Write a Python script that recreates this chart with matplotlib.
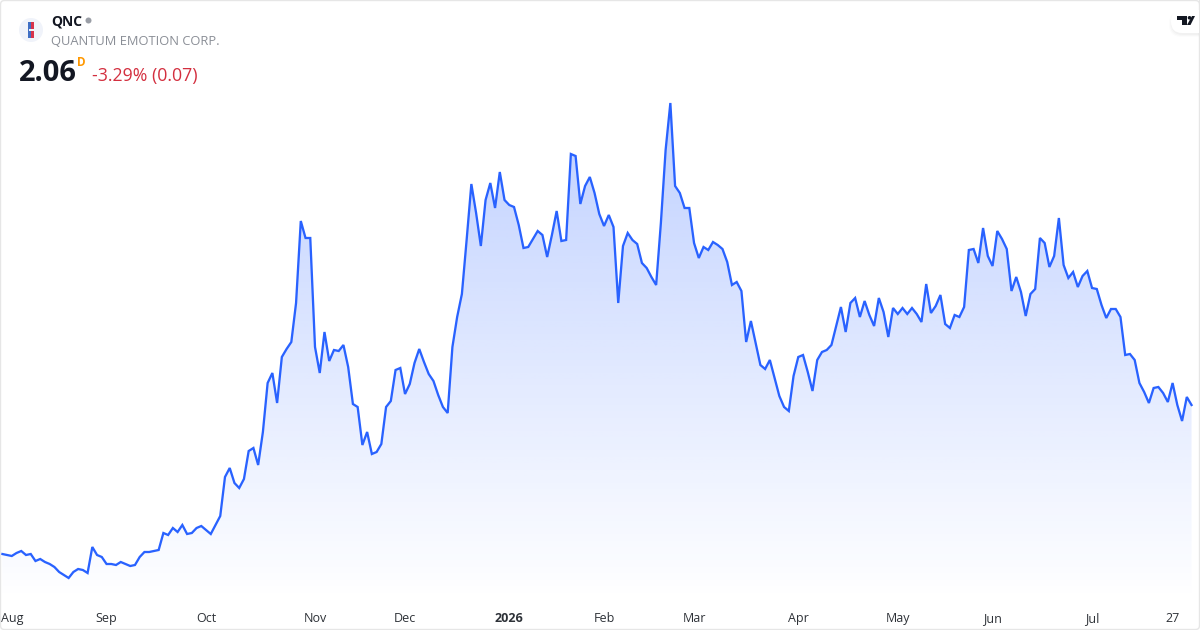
import numpy as np
import matplotlib
matplotlib.use("Agg")
import matplotlib.pyplot as plt
from matplotlib.patches import Circle, FancyBboxPatch, Polygon, Rectangle

plt.rcParams["font.family"] = ["Open Sans", "DejaVu Sans"]

# daily closes
closes = [
    0.57, 0.56, 0.55, 0.58, 0.60, 0.56, 0.57, 0.50, 0.52, 0.49, 0.47, 0.44, 0.39, 0.36, 0.33, 0.39,
    0.42, 0.41, 0.38, 0.64, 0.56, 0.54, 0.47, 0.47, 0.46, 0.49, 0.47, 0.45, 0.46, 0.54, 0.59, 0.59,
    0.60, 0.61, 0.78, 0.76, 0.83, 0.79, 0.86, 0.77, 0.78, 0.83, 0.85, 0.81, 0.77, 0.86, 0.95, 1.34,
    1.43, 1.28, 1.23, 1.32, 1.60, 1.63, 1.46, 1.79, 2.28, 2.38, 2.08, 2.54, 2.62, 2.69, 3.08, 3.90,
    3.73, 3.73, 2.64, 2.38, 2.79, 2.50, 2.61, 2.60, 2.66, 2.44, 2.07, 2.04, 1.66, 1.79, 1.57, 1.59,
    1.67, 2.04, 2.10, 2.41, 2.43, 2.17, 2.27, 2.48, 2.62, 2.49, 2.37, 2.30, 2.16, 2.04, 1.98, 2.64,
    2.94, 3.17, 3.71, 4.27, 3.98, 3.65, 4.11, 4.28, 4.03, 4.39, 4.11, 4.06, 4.04, 3.86, 3.63, 3.64,
    3.72, 3.80, 3.76, 3.54, 3.76, 4.00, 3.70, 3.71, 4.57, 4.55, 4.07, 4.25, 4.34, 4.18, 3.97, 3.85,
    3.96, 3.84, 3.08, 3.65, 3.78, 3.71, 3.67, 3.48, 3.43, 3.34, 3.26, 3.88, 4.61, 5.08, 4.25, 4.18,
    4.03, 4.03, 3.68, 3.53, 3.64, 3.61, 3.69, 3.66, 3.62, 3.49, 3.26, 3.29, 3.20, 2.69, 2.90, 2.68,
    2.46, 2.42, 2.51, 2.33, 2.15, 2.04, 2.00, 2.35, 2.54, 2.56, 2.39, 2.20, 2.51, 2.59, 2.61, 2.66,
    2.85, 3.04, 2.79, 3.08, 3.13, 2.94, 3.10, 2.96, 2.85, 3.13, 2.99, 2.74, 3.03, 2.97, 3.03, 2.97,
    3.03, 2.97, 2.89, 3.27, 2.98, 3.05, 3.16, 2.87, 2.83, 2.96, 2.94, 3.04, 3.61, 3.62, 3.48, 3.83,
    3.55, 3.45, 3.80, 3.72, 3.62, 3.20, 3.34, 3.19, 2.95, 3.17, 3.22, 3.73, 3.68, 3.44, 3.55, 3.93,
    3.46, 3.33, 3.39, 3.24, 3.35, 3.40, 3.23, 3.22, 3.06, 2.93, 3.02, 3.02, 2.94, 2.56, 2.57, 2.51,
    2.28, 2.19, 2.08, 2.23, 2.24, 2.18, 2.09, 2.28, 2.06, 1.90, 2.14, 2.06,
]
tick_pos = [2, 22, 43, 66, 85, 107, 127, 146, 168, 189, 209, 230, 247]
tick_labels = ["Aug", "Sep", "Oct", "Nov", "Dec", "2026", "Feb", "Mar", "Apr", "May", "Jun", "Jul", "27"]

W, H = 1200, 630
x0, step = 2.3, 4.738

fig = plt.figure(figsize=(12, 6.3), dpi=100, facecolor="white")

# price pane, ends at y=600 px, tick labels sit below it
ax = fig.add_axes([0, 30 / H, 1, 600 / H])

xs = np.arange(len(closes))
ys = np.array(closes)

# gradient under the line, clipped to the area polygon
grad = np.zeros((256, 2, 4))
grad[..., 0] = 41 / 255
grad[..., 1] = 98 / 255
grad[..., 2] = 1.0
grad[..., 3] = np.linspace(0.30, 0.0, 256)[:, None]
im = ax.imshow(grad, extent=[xs[0], xs[-1], 0.11, 5.08], origin="upper", aspect="auto", zorder=1, interpolation="bilinear")
poly = ax.fill_between(xs, ys, 0.11, color="none", zorder=1)
im.set_clip_path(poly.get_paths()[0], transform=ax.transData)
ax.set_xlim(-x0 / step, (W - x0) / step)
ax.set_ylim(0.11, 6.11)

ax.plot(xs, ys, color="#2962ff", lw=1.65, zorder=2, solid_joinstyle="miter")

ax.set_yticks([])
ax.set_xticks(tick_pos)
ax.set_xticklabels(tick_labels, fontsize=9, color="#2e3238", va="baseline")
ax.tick_params(axis="x", length=0, pad=16)
ax.get_xticklabels()[5].set_fontweight("bold")
for s in ax.spines.values():
    s.set_visible(False)
ax.patch.set_alpha(0)

# overlay in pixel coords for header, logos and frame
ov = fig.add_axes([0, 0, 1, 1])
ov.set_xlim(0, W)
ov.set_ylim(H, 0)
ov.axis("off")
ov.patch.set_alpha(0)

ov.add_patch(FancyBboxPatch((0.5, 0.5), W - 1, H - 1, boxstyle="round,pad=0,rounding_size=4",
                            fc="none", ec="#e6e6e6", lw=1))

# symbol logo
ov.add_patch(Circle((31, 30), 12, fc="#f0f3fa", ec="none"))
ov.add_patch(Rectangle((28, 22), 2.5, 16, fc="#3f6fc4", ec="none"))
ov.add_patch(Rectangle((30.5, 22), 3.5, 16, fc="#d8324a", ec="none"))
ov.add_patch(Rectangle((28.5, 28.5), 5, 2, fc="#f4f4f8", ec="none"))

ov.text(51, 21, "QNC", fontsize=10, fontweight="bold", color="#131722", va="center", ha="left")
ov.add_patch(Circle((88.5, 20.5), 3, fc="#9a9ea6", ec="none"))
ov.text(51, 41.5, "QUANTUM EMOTION CORP.", fontsize=9.25, color="#8a8e96", va="center", ha="left")
ov.text(19, 73.5, "2.06", fontsize=21, fontweight="bold", color="#131722", va="center", ha="left")
ov.text(77, 62, "D", fontsize=8.5, fontweight="bold", color="#ff9800", va="center", ha="left")
ov.text(92, 76, "-3.29% (0.07)", fontsize=12.8, color="#d32f3f", va="center", ha="left")

# tradingview badge
for i, a in enumerate([0.012, 0.018, 0.025]):
    ov.add_patch(FancyBboxPatch((1169 + i, 11 + i), 40, 26 - 2 * i, boxstyle="round,pad=0,rounding_size=12",
                                fc="black", ec="none", alpha=a))
ov.add_patch(FancyBboxPatch((1171, 10), 40, 23, boxstyle="round,pad=0,rounding_size=11", fc="white", ec="none"))
ov.add_patch(Rectangle((1199, 0), 1, 40, fc="#e6e6e6", ec="none"))
ov.add_patch(Polygon([(1177, 16), (1187, 16), (1187, 25), (1182, 25), (1182, 20), (1177, 20)], fc="#131722", ec="none", zorder=5))
ov.add_patch(Circle((1189.5, 17.8), 1.8, fc="#131722", ec="none", zorder=5))
ov.add_patch(Polygon([(1192, 16), (1195, 16), (1190.5, 25), (1187, 25)], fc="#131722", ec="none", zorder=5))

fig.savefig("out.png", dpi=100)
